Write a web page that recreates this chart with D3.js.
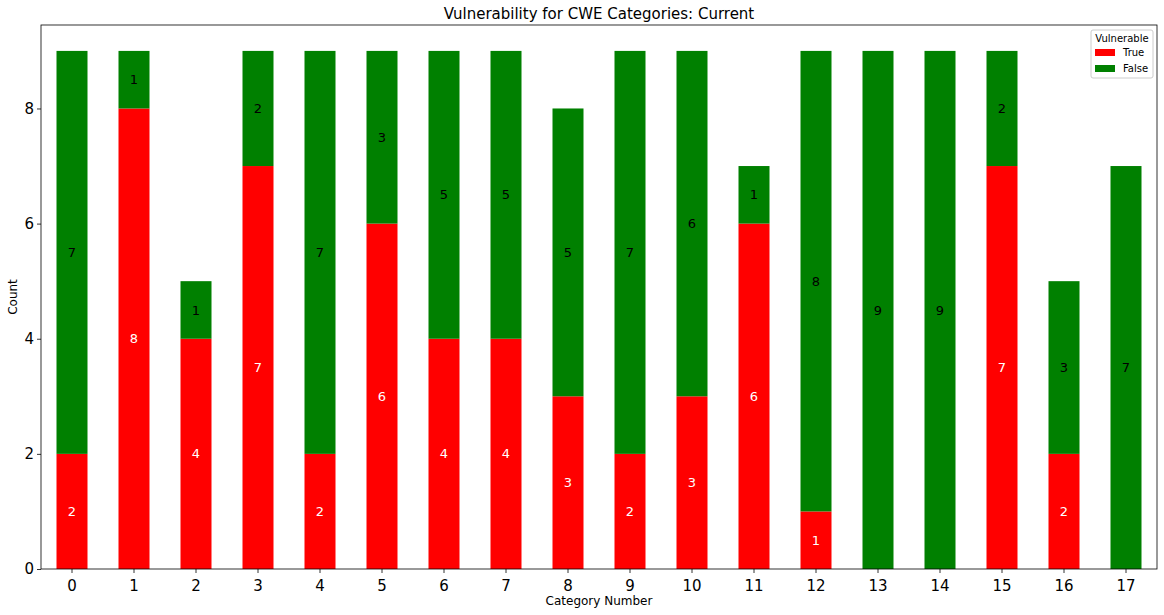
<!DOCTYPE html>
<html>
<head>
<meta charset="utf-8">
<script src="https://cdn.jsdelivr.net/npm/d3@7"></script>
<style>
  body { margin: 0; background: #fff; }
  text { font-family: "DejaVu Sans", sans-serif; }
</style>
</head>
<body>
<div id="chart"></div>
<script>
// --> DATA
var categories = d3.range(18);
var trueCounts  = [2, 8, 4, 7, 2, 6, 4, 4, 3, 2, 3, 6, 1, 0, 0, 7, 2, 0];
var falseCounts = [7, 1, 1, 2, 7, 3, 5, 5, 5, 7, 6, 1, 8, 9, 9, 2, 3, 7];
var yTicks = [0, 2, 4, 6, 8];
var seriesNames = ["True", "False"];
var seriesColors = ["#ff0000", "#008000"];

// --> SVG
var width = 1164,
    height = 615;
var margin = {top: 25, right: 7, bottom: 46, left: 41};

var svg = d3.select("#chart").append("svg")
    .attr("width", width)
    .attr("height", height);

var x = d3.scaleBand()
    .domain(categories)
    .range([margin.left, width - margin.right])
    .paddingInner(0.5)
    .paddingOuter(0.25);

var y = d3.scaleLinear()
    .domain([0, 9.45])
    .range([height - margin.bottom, margin.top]);

var rows = categories.map(function (c, i) {
    return {cat: c, True: trueCounts[i], False: falseCounts[i]};
});
var stacked = d3.stack().keys(seriesNames)(rows);

var g = svg.append("g");

stacked.forEach(function (layer, li) {
    g.selectAll(".bar" + li)
        .data(layer)
        .enter()
        .append("rect")
        .attr("x", function (d) { return x(d.data.cat); })
        .attr("width", x.bandwidth())
        .attr("y", function (d) { return y(d[1]); })
        .attr("height", function (d) { return y(d[0]) - y(d[1]); })
        .style("fill", seriesColors[li]);

    g.selectAll(".lbl" + li)
        .data(layer.filter(function (d) { return d[1] - d[0] > 0; }))
        .enter()
        .append("text")
        .attr("x", function (d) { return x(d.data.cat) + x.bandwidth() / 2; })
        .attr("y", function (d) { return y((d[0] + d[1]) / 2); })
        .attr("dy", "0.35em")
        .attr("text-anchor", "middle")
        .style("font-size", "13px")
        .style("fill", li === 0 ? "#fff" : "#000")
        .text(function (d) { return d[1] - d[0]; });
});

// axes
var xAxis = svg.append("g")
    .attr("transform", "translate(0," + (height - margin.bottom) + ")")
    .call(d3.axisBottom(x).tickSize(4).tickSizeOuter(0));
var yAxis = svg.append("g")
    .attr("transform", "translate(" + margin.left + ",0)")
    .call(d3.axisLeft(y).tickValues(yTicks).tickSize(4).tickSizeOuter(0));

[xAxis, yAxis].forEach(function (a) {
    a.select(".domain").remove();
    a.selectAll("text")
        .style("font-family", "DejaVu Sans, sans-serif")
        .style("font-size", "15px")
        .style("fill", "#000");
    a.selectAll("line").style("stroke", "#000").style("stroke-width", 0.8);
});
xAxis.selectAll("text").attr("dy", "1em").attr("y", 7);
yAxis.selectAll("text").attr("x", -7);

// frame
svg.append("rect")
    .attr("x", margin.left)
    .attr("y", margin.top)
    .attr("width", width - margin.right - margin.left)
    .attr("height", height - margin.bottom - margin.top)
    .style("fill", "none")
    .style("stroke", "#000")
    .style("stroke-width", 0.8);

// titles
svg.append("text")
    .attr("x", (margin.left + width - margin.right) / 2)
    .attr("y", 19)
    .attr("text-anchor", "middle")
    .style("font-size", "15px")
    .text("Vulnerability for CWE Categories: Current");

svg.append("text")
    .attr("x", (margin.left + width - margin.right) / 2)
    .attr("y", 605)
    .attr("text-anchor", "middle")
    .style("font-size", "12px")
    .text("Category Number");

svg.append("text")
    .attr("transform", "translate(17," + ((margin.top + height - margin.bottom) / 2) + ") rotate(-90)")
    .attr("text-anchor", "middle")
    .style("font-size", "12px")
    .text("Count");

// legend
var legend = svg.append("g").attr("transform", "translate(1091,30)");
legend.append("rect")
    .attr("width", 62)
    .attr("height", 48)
    .attr("rx", 2)
    .style("fill", "#fff")
    .style("stroke", "#ccc");
legend.append("text")
    .attr("x", 31)
    .attr("y", 12)
    .attr("text-anchor", "middle")
    .style("font-size", "10px")
    .text("Vulnerable");
seriesNames.forEach(function (s, i) {
    legend.append("rect")
        .attr("x", 4)
        .attr("y", 19 + i * 16)
        .attr("width", 20)
        .attr("height", 7)
        .style("fill", seriesColors[i]);
    legend.append("text")
        .attr("x", 32)
        .attr("y", 26 + i * 16)
        .style("font-size", "10px")
        .text(s);
});
</script>
</body>
</html>
